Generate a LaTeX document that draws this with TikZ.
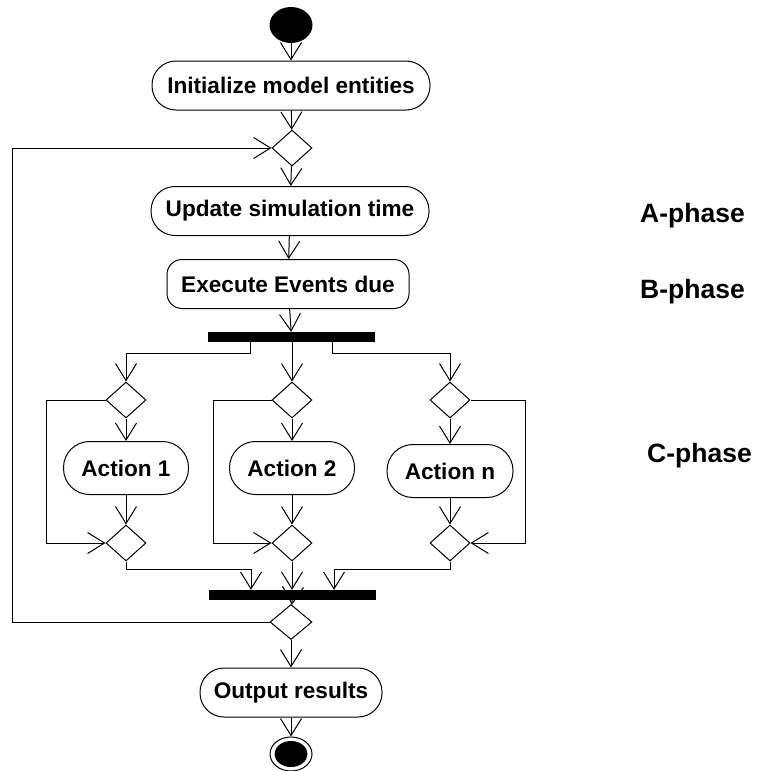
\documentclass[tikz,border=0pt]{standalone}
\usepackage{fontspec}
\setmainfont{Liberation Sans}
\usetikzlibrary{arrows.meta,shapes.geometric}

\tikzset{
  activity/.style={draw, line width=1pt, rounded corners=24pt, minimum height=49pt,
    inner sep=0pt, font=\fontsize{22.6}{26}\selectfont\bfseries},
  decision/.style={draw, diamond, line width=1pt, minimum width=40pt, minimum height=36pt, inner sep=0pt},
  syncbar/.style={fill=black, minimum width=167pt, minimum height=10pt, inner sep=0pt},
  phase/.style={anchor=west, inner sep=0pt, font=\fontsize{26.5}{30}\selectfont\bfseries},
  flow/.style={line width=1pt, -{Straight Barb[length=17pt, width=21pt, line width=1pt]}},
  wire/.style={line width=1pt}
}

\begin{document}
\begin{tikzpicture}[x=1pt, y=-1pt]
\useasboundingbox (0,0) rectangle (757,771);
\clip (0,0) rectangle (757,771);

% start and init
\node[fill=black, ellipse, minimum width=43pt, minimum height=36pt, inner sep=0pt] (start) at (291,25) {};
\node[activity, minimum width=278pt] (init) at (291,85.5) {Initialize model entities};
\node[decision] (d1) at (292,148) {};

% A- and B-phase
\node[activity, minimum width=278pt] (update) at (290,211) {Update simulation time};
\node[activity, rounded corners=15pt, minimum width=242pt] (exec) at (288,284) {Execute Events due};
\node[syncbar] (fork) at (291.5,337) {};

% C-phase branches
\node[decision] (dt1) at (126,400) {};
\node[decision] (dt2) at (292,400) {};
\node[decision] (dt3) at (450,400) {};
\node[activity, minimum width=125pt, minimum height=53pt, rounded corners=26pt] (act1) at (126,468) {Action 1};
\node[activity, minimum width=125pt, minimum height=53pt, rounded corners=26pt] (act2) at (292,468) {Action 2};
\node[activity, minimum width=126pt, minimum height=53pt, rounded corners=26pt] (actn) at (450,471) {Action n};
\node[decision] (db1) at (126,543) {};
\node[decision] (db2) at (292,543) {};
\node[decision] (db3) at (450,543) {};
\node[syncbar] (join) at (292.5,595) {};

% end
\node[decision, minimum width=42pt, minimum height=35pt] (dm) at (291,622) {};
\node[activity, minimum width=182pt] (out) at (291,692.5) {Output results};
\node[draw, line width=1pt, ellipse, minimum width=42pt, minimum height=34pt, inner sep=0pt] (fin) at (291,754) {};
\node[fill=black, ellipse, minimum width=33pt, minimum height=26pt, inner sep=0pt] (fincore) at (fin) {};

% phase labels
\node[phase] (aphase) at (640,216) {A-phase};
\node[phase] (bphase) at (640,292) {B-phase};
\node[phase] (cphase) at (647,456) {C-phase};

% main line
\draw[flow] (start) -- (init);
\draw[flow] (init) -- (d1);
\draw[flow] (d1) -- (update);
\draw[flow] (update) -- (exec);
\draw[flow] (exec) -- (fork);

% fork
\draw[flow] ([xshift=-41.5pt]fork.south) -- ++(0,11) -| (dt1);
\draw[flow] (fork.south -| dt2) -- (dt2);
\draw[flow] ([xshift=40.5pt]fork.south) -- ++(0,11) -| (dt3);

% branches
\draw[flow] (dt1) -- (act1);
\draw[flow] (act1) -- (db1);
\draw[flow] (dt2) -- (act2);
\draw[flow] (act2) -- (db2);
\draw[flow] (dt3) -- (actn);
\draw[flow] (actn) -- (db3);

% skip loops
\draw[flow] (dt1.west) -- ++(-59,0) |- (db1.west);
\draw[flow] (dt2.west) -- ++(-58,0) |- (db2.west);
\draw[flow] (dt3.east) -- ++(55,0) |- (db3.east);

% join
\draw[flow] (db1.south) -- ++(0,8) -| ([xshift=-41.5pt]join.north);
\draw[flow] (db2) -- (join.north -| db2);
\draw[flow] (db3.south) -- ++(0,8) -| ([xshift=41.5pt]join.north);
\draw[flow] (join) -- (dm);

% big loop back
\draw[flow] (dm.west) -- ++(-257,0) |- (d1.west);

\draw[flow] (dm) -- (out);
\draw[flow] (out) -- (fin);

\end{tikzpicture}
\end{document}
